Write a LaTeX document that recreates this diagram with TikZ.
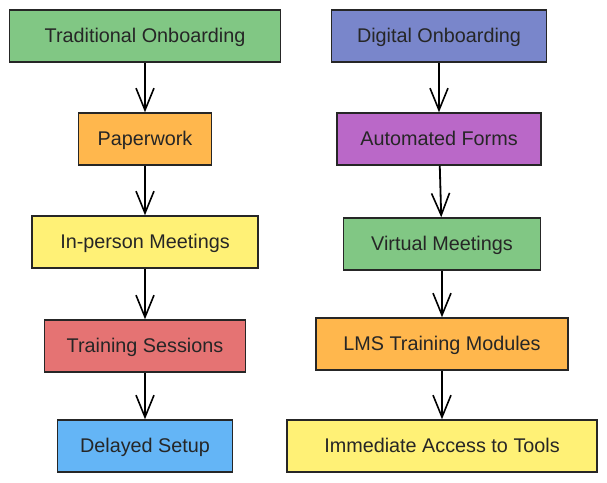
\documentclass[tikz,border=0pt]{standalone}
\usepackage{fontspec}
\setmainfont{Liberation Sans}
\usetikzlibrary{arrows.meta}
\definecolor{boxgreen}{HTML}{81C784}
\definecolor{boxorange}{HTML}{FFB74D}
\definecolor{boxyellow}{HTML}{FFF176}
\definecolor{boxred}{HTML}{E57373}
\definecolor{boxblue}{HTML}{64B5F6}
\definecolor{boxindigo}{HTML}{7986CB}
\definecolor{boxpurple}{HTML}{BA68C8}
\begin{document}
\begin{tikzpicture}[x=1pt,y=-1pt,
  box/.style={draw=black!85, line width=1.5pt, minimum height=52pt, inner sep=0pt,
    text height=13pt, text depth=0pt,
    font=\fontsize{19.8}{24}\selectfont, text=black!85},
  flow/.style={-{Straight Barb[length=22pt,width=18pt,line width=1.6pt]}, line width=1.8pt}]
\useasboundingbox (0,0) rectangle (607,482);
% traditional
\node[box, fill=boxgreen, minimum width=271pt] (trad) at (145,36) {Traditional Onboarding};
\node[box, fill=boxorange, minimum width=133pt] (paper) at (145,139) {Paperwork};
\node[box, fill=boxyellow, minimum width=226pt] (meet) at (145,242) {In-person Meetings};
\node[box, fill=boxred, minimum width=201pt] (train) at (145,346) {Training Sessions};
\node[box, fill=boxblue, minimum width=175pt] (delay) at (145,446) {Delayed Setup};
\draw[flow] (trad)--(paper);
\draw[flow] (paper)--(meet);
\draw[flow] (meet)--(train);
\draw[flow] (train)--(delay);
% digital
\node[box, fill=boxindigo, minimum width=215pt] (digi) at (439,36) {Digital Onboarding};
\node[box, fill=boxpurple, minimum width=204pt] (forms) at (439,139) {Automated Forms};
\node[box, fill=boxgreen, minimum width=197pt] (virt) at (442,244) {Virtual Meetings};
\node[box, fill=boxorange, minimum width=252pt] (lms) at (442,344) {LMS Training Modules};
\node[box, fill=boxyellow, minimum width=310pt] (tools) at (442,446) {Immediate Access to Tools};
\draw[flow] (digi)--(forms);
\draw[flow] (forms)--(virt);
\draw[flow] (virt)--(lms);
\draw[flow] (lms)--(tools);
\end{tikzpicture}
\end{document}
